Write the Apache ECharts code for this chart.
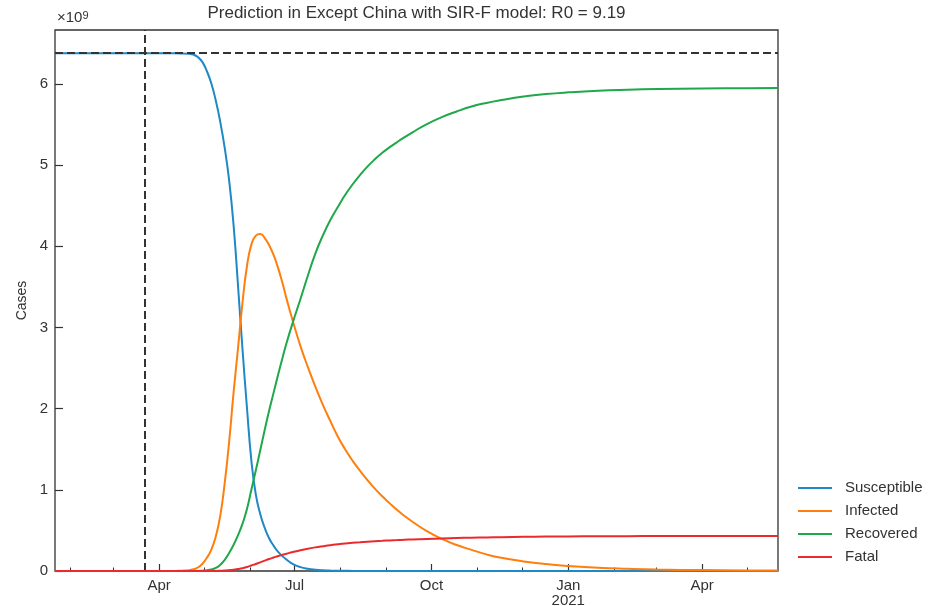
<!DOCTYPE html>
<html>
<head>
<meta charset="utf-8">
<script src="https://cdn.jsdelivr.net/npm/echarts@6/dist/echarts.min.js"></script>
<style>
html,body{margin:0;padding:0;background:#fff;}
#chart{width:936px;height:606px;}
</style>
</head>
<body>
<div id="chart"></div>
<script>
// ---- data (cases in units of 10^9) ----
const dates = ['2020-01-22','2020-02-21','2020-03-22','2020-04-11','2020-04-16','2020-04-21','2020-04-24','2020-04-27','2020-04-30','2020-05-03','2020-05-06','2020-05-09','2020-05-12','2020-05-15','2020-05-18','2020-05-21','2020-05-24','2020-05-27','2020-05-30','2020-06-02','2020-06-05','2020-06-08','2020-06-11','2020-06-14','2020-06-17','2020-06-20','2020-06-23','2020-06-26','2020-06-30','2020-07-05','2020-07-10','2020-07-15','2020-07-20','2020-07-25','2020-07-30','2020-08-04','2020-08-09','2020-08-14','2020-08-19','2020-08-24','2020-08-29','2020-09-03','2020-09-08','2020-09-13','2020-09-18','2020-09-28','2020-10-08','2020-10-18','2020-10-28','2020-11-07','2020-11-17','2020-12-02','2020-12-17','2021-01-01','2021-01-21','2021-02-10','2021-03-02','2021-04-01','2021-05-01','2021-05-22'];
const susceptible = [6.376,6.376,6.376,6.376,6.375,6.370,6.360,6.33,6.27,6.16,6.01,5.80,5.54,5.22,4.82,4.27,3.52,2.74,2.02,1.36,0.94,0.70,0.53,0.40,0.31,0.235,0.18,0.135,0.085,0.048,0.027,0.015,0.008,0.005,0.003,0.002,0.0012,0.0008,0.0006,0.0005,0.0004,0.0003,0.0003,0.0003,0.0002,0.0002,0.0002,0.0001,0.0001,0.0001,0.0001,0.0001,0.0001,0.0001,0.0001,0.0001,0.0001,0.0001,0.0001,0.0001];
const infected = [0,0,0.0003,0.001,0.004,0.01,0.021,0.043,0.086,0.16,0.26,0.42,0.67,1.07,1.58,2.19,2.74,3.30,3.75,4.02,4.13,4.15,4.10,4.01,3.89,3.73,3.54,3.33,3.07,2.77,2.51,2.27,2.05,1.85,1.66,1.50,1.36,1.235,1.12,1.015,0.92,0.833,0.75,0.677,0.61,0.49,0.395,0.32,0.26,0.205,0.163,0.118,0.085,0.062,0.04,0.027,0.018,0.011,0.007,0.005];
const recovered = [0,0,0,0,0,0,0.0005,0.001,0.004,0.009,0.018,0.037,0.074,0.135,0.22,0.32,0.44,0.58,0.76,1.00,1.24,1.49,1.74,1.98,2.20,2.42,2.63,2.83,3.07,3.35,3.64,3.91,4.13,4.32,4.48,4.63,4.76,4.875,4.98,5.07,5.15,5.22,5.283,5.343,5.40,5.505,5.59,5.66,5.72,5.765,5.80,5.843,5.874,5.895,5.915,5.927,5.935,5.942,5.946,5.948];
const fatal = [0,0,0,0,0,0,0,0,0,0,0.0005,0.001,0.003,0.005,0.01,0.016,0.025,0.035,0.05,0.068,0.086,0.107,0.128,0.148,0.166,0.184,0.20,0.215,0.234,0.256,0.275,0.291,0.305,0.318,0.329,0.339,0.347,0.354,0.361,0.367,0.372,0.377,0.381,0.385,0.388,0.395,0.401,0.406,0.41,0.414,0.417,0.421,0.424,0.426,0.428,0.429,0.430,0.431,0.431,0.431];
const seriesNames = ['Susceptible','Infected','Recovered','Fatal'];
const population = 6.376;          // horizontal dashed line
const startDate = '2020-03-22';    // vertical dashed line
const xMin = '2020-01-22';
const xMax = '2021-05-22';
const yMax = 6.663;
const yTicks = [0,1,2,3,4,5,6];
const majorTickDates = ['2020-04-01','2020-07-01','2020-10-01','2021-01-01','2021-04-01'];
const minorTickDates = ['2020-02-01','2020-03-01','2020-05-01','2020-06-01','2020-08-01','2020-09-01','2020-11-01','2020-12-01','2021-02-01','2021-03-01','2021-05-01'];
const monthNames = ['Jan','Feb','Mar','Apr','May','Jun','Jul','Aug','Sep','Oct','Nov','Dec'];
const colors = ['#1f88c6','#ff7f0e','#1fa84a','#ea2a2c'];

// ---- chart ----
const ts = s => { const p = s.split('-').map(Number); return new Date(p[0], p[1]-1, p[2]).getTime(); };
const chart = echarts.init(document.getElementById('chart'), null, {renderer:'canvas'});
const font = 'Liberation Sans, Arial, sans-serif';
const values = [susceptible, infected, recovered, fatal];
const series = seriesNames.map((name, k) => ({
  name, type:'line', xAxisIndex:0, yAxisIndex:0,
  data: dates.map((d,i) => [ts(d), values[k][i]]),
  showSymbol:false, symbol:'none', smooth:0.5,
  lineStyle:{width:2, color:colors[k]}, itemStyle:{color:colors[k]},
  z: 2 + k
}));
series.push({
  name:'guides', type:'line', data:[], xAxisIndex:0, yAxisIndex:0, z:10,
  markLine:{silent:true, symbol:'none', label:{show:false},
    lineStyle:{color:'#333', width:2, type:[8,4]},
    data:[{yAxis:population},{xAxis:ts(startDate)}]}
});
chart.setOption({
  animation:false,
  textStyle:{fontFamily:font},
  grid:{left:55, right:158, top:30, bottom:35, show:true, borderColor:'#333', borderWidth:1.3, backgroundColor:'#fff', containLabel:false, outerBoundsMode:'none'},
  xAxis:[{
    type:'value', min:ts(xMin), max:ts(xMax), scale:true,
    axisLine:{show:false}, splitLine:{show:false},
    axisTick:{show:true, inside:true, length:7, lineStyle:{color:'#333', width:1.2}, customValues: majorTickDates.map(ts)},
    axisLabel:{customValues: majorTickDates.map(ts), color:'#333', fontSize:15, margin:7, lineHeight:15, fontFamily:font,
      formatter: v => { const d = new Date(v); const m = d.getMonth(); return m === 0 ? monthNames[m] + '\n' + d.getFullYear() : monthNames[m]; }}
  },{
    type:'value', min:ts(xMin), max:ts(xMax), scale:true, position:'bottom',
    axisLine:{show:false}, splitLine:{show:false}, axisLabel:{show:false},
    axisTick:{show:true, inside:true, length:3.5, lineStyle:{color:'#333', width:1}, customValues: minorTickDates.map(ts)}
  }],
  yAxis:{
    type:'value', min:0, max:yMax,
    name:'Cases', nameLocation:'middle', nameGap:26, nameTextStyle:{fontSize:14, color:'#333', fontFamily:font},
    axisLine:{show:false}, splitLine:{show:false},
    axisTick:{show:true, inside:true, length:8, lineStyle:{color:'#333', width:1.2}, customValues:yTicks},
    axisLabel:{customValues:yTicks, color:'#333', fontSize:15, margin:7, fontFamily:font, formatter: v => String(Math.round(v))}
  },
  legend:{
    data: seriesNames, orient:'vertical', left:793, top:475, icon:'rect', itemWidth:34, itemHeight:2.2, itemGap:7,
    textStyle:{fontSize:15, color:'#333', lineHeight:16, padding:[0,0,0,8], fontFamily:font}
  },
  graphic:[
    {type:'text', x:416.5, y:13, style:{text:'Prediction in Except China with SIR-F model: R0 = 9.19', align:'center', verticalAlign:'middle', fontSize:17, fill:'#333', fontFamily:font}},
    {type:'text', x:57, y:18, style:{text:'{a|×10}{b|9}', verticalAlign:'middle', rich:{a:{fontSize:15, fill:'#333', fontFamily:font, lineHeight:16}, b:{fontSize:11, fill:'#333', fontFamily:font, verticalAlign:'top', lineHeight:12}}}}
  ],
  series
});
</script>
</body>
</html>
